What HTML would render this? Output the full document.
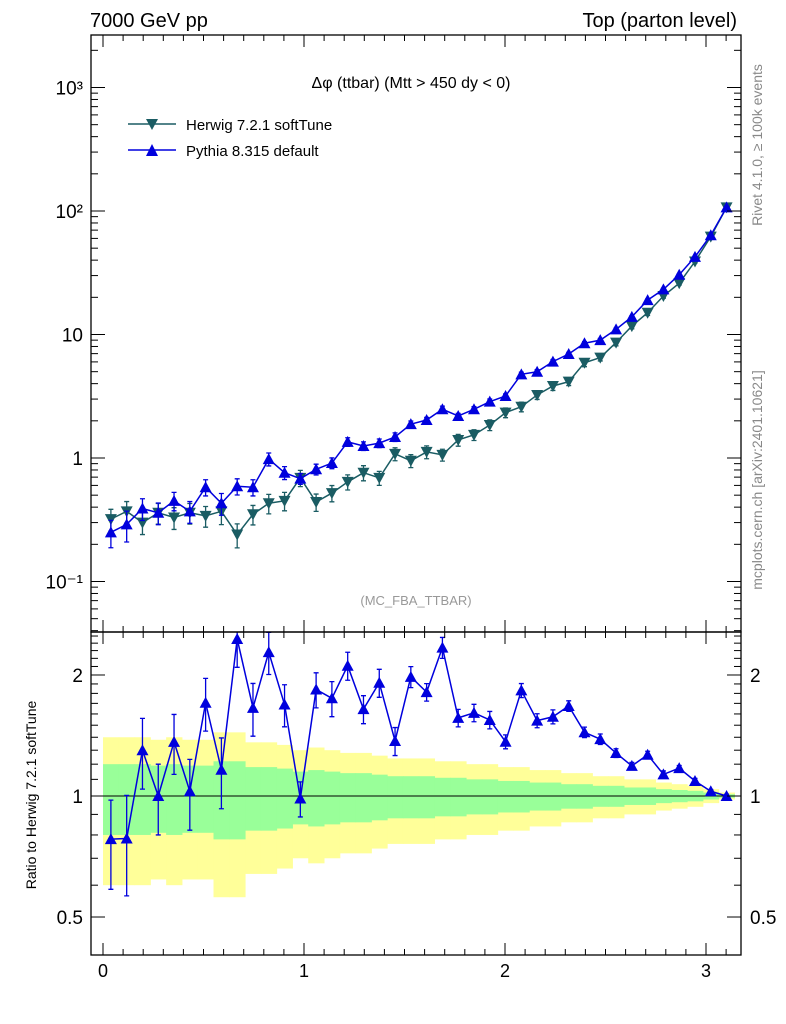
<!DOCTYPE html>
<html><head><meta charset="utf-8"><style>
body{margin:0;background:#fff}
svg{display:block;font-family:"Liberation Sans",sans-serif}
</style></head><body>
<svg id="c" width="786" height="1024" xmlns="http://www.w3.org/2000/svg">
<defs>
<clipPath id="cm"><rect x="91" y="35" width="650" height="597"/></clipPath>
<clipPath id="cr"><rect x="91" y="632" width="650" height="323"/></clipPath>
</defs>
<text x="90" y="27" font-size="20">7000 GeV pp</text>
<text x="737" y="27" font-size="20" text-anchor="end">Top (parton level)</text>
<text x="411" y="88" font-size="16" text-anchor="middle">Δφ (ttbar) (Mtt &gt; 450 dy &lt; 0)</text>
<text x="416" y="605" font-size="13" fill="#999" text-anchor="middle">(MC_FBA_TTBAR)</text>
<text transform="translate(762,145) rotate(-90)" font-size="14" fill="#888" text-anchor="middle">Rivet 4.1.0, ≥ 100k events</text>
<text transform="translate(762,480) rotate(-90)" font-size="14" fill="#888" text-anchor="middle">mcplots.cern.ch [arXiv:2401.10621]</text>
<text transform="translate(36,795) rotate(-90)" font-size="14" text-anchor="middle">Ratio to Herwig 7.2.1 softTune</text>
<g id="legend">
<g>
<line x1="128" y1="124" x2="176" y2="124" stroke="#1a5c63" stroke-width="1.5"/>
<path d="M146,119 L158,119 L152,130 Z" fill="#1a5c63"/>
<text x="186" y="130" font-size="15">Herwig 7.2.1 softTune</text></g>
<g>
<line x1="128" y1="150" x2="176" y2="150" stroke="#0000dd" stroke-width="1.5"/>
<path d="M146,156 L158,156 L152,144 Z" fill="#0000dd"/>
<text x="186" y="156" font-size="15">Pythia 8.315 default</text></g>
</g>
<g id="g"></g>
</svg>
<script>
const herwigVals=[0.32,0.37,0.30,0.36,0.33,0.36,0.34,0.37,0.24,0.35,0.43,0.45,0.69,0.44,0.52,0.64,0.76,0.69,1.08,0.95,1.12,1.06,1.40,1.54,1.85,2.33,2.60,3.24,3.83,4.15,5.9,6.5,8.6,11.7,15.0,20.5,26,39,62,107];
const pythiaVals=[0.25,0.29,0.39,0.36,0.45,0.37,0.58,0.43,0.59,0.58,0.98,0.76,0.68,0.81,0.91,1.35,1.25,1.32,1.48,1.88,2.03,2.48,2.19,2.48,2.86,3.18,4.76,4.99,6.03,6.95,8.5,9.0,11.0,13.9,19.0,23.2,30.5,42.5,63.7,107];
const herwigErr=[0.2,0.2,0.2,0.19,0.2,0.19,0.19,0.22,0.22,0.18,0.18,0.17,0.15,0.16,0.15,0.14,0.14,0.13,0.12,0.12,0.12,0.11,0.11,0.10,0.10,0.09,0.09,0.08,0.08,0.07,0.07,0.06,0.06,0.05,0.05,0.04,0.035,0.03,0.02,0.01];
const pythiaErr=[0.25,0.28,0.2,0.2,0.17,0.2,0.15,0.2,0.15,0.15,0.12,0.12,0.1,0.1,0.1,0.08,0.08,0.08,0.08,0.06,0.05,0.06,0.05,0.05,0.05,0.04,0.04,0.04,0.04,0.03,0.03,0.03,0.025,0.02,0.02,0.02,0.015,0.015,0.01,0.01];
const xTicks=[0,1,2,3];
const mainTicks=[-1,0,1,2,3];
const mainTickLabels=["10\u207B\u00B9","1","10","10\u00B2","10\u00B3"];
const ratioTicks=[0.5,1,2];
const ratioTickLabels=["0.5","1","2"];

const NS="http://www.w3.org/2000/svg";
const g=document.getElementById('g');
const L=91,R=741,T=35,M=632,B=955;
const X=v=>103+v*201;
const Ym=v=>458-Math.log10(v)*123.5;
const Yr=v=>796-Math.log10(v)*402;
const nb=herwigVals.length, bw=Math.PI/nb;
function el(t,a,p){const e=document.createElementNS(NS,t);for(const k in a)e.setAttribute(k,a[k]);(p||g).appendChild(e);return e;}

const bands=el('g',{'clip-path':'url(#cr)'});


for(let i=0;i<nb;i++){
 const x0=X(i*bw),x1=X((i+1)*bw),e=herwigErr[i];
 const y=el('rect',{x:x0,y:Yr(1+2*e),width:x1-x0+0.5,height:Yr(Math.max(1-2*e,0.3))-Yr(1+2*e),fill:'#ffff99'},bands);
 
 
}
for(let i=0;i<nb;i++){
 const x0=X(i*bw),x1=X((i+1)*bw),e=herwigErr[i];
 const gr=el('rect',{x:x0,y:Yr(1+e),width:x1-x0+0.5,height:Yr(1-e)-Yr(1+e),fill:'#99ff99'},bands);
 
 
}
const refl=el('line',{x1:L,y1:796,x2:R,y2:796,stroke:'#000','stroke-width':1});



function series(vals,errs,Y,clip,color,down,name){
 const s=el('g',{'clip-path':'url(#'+clip+')'});
 
 
 let d='';
 vals.forEach((v,i)=>{const x=X((i+0.5)*bw);d+=(i?'L':'M')+x+','+Y(v);});
 el('path',{d:d,fill:'none',stroke:color,'stroke-width':1.5},s);
 vals.forEach((v,i)=>{
  const x=X((i+0.5)*bw),y=Y(v),e=errs[i];
  const yt=Y(v*(1+e)),yb=Y(v*Math.max(1-e,0.05));
  el('path',{d:`M${x},${yt}V${yb}M${x-2.5},${yt}H${x+2.5}M${x-2.5},${yb}H${x+2.5}`,stroke:color,'stroke-width':1.3,fill:'none'},s);
  const m=el('path',{d:down?`M${x-6},${y-5}L${x+6},${y-5}L${x},${y+6}Z`:`M${x-6},${y+5}L${x+6},${y+5}L${x},${y-6}Z`,fill:color},s);
  
  
 });
}
series(herwigVals,herwigErr,Ym,'cm','#1a5c63',true,'herwig-series');
series(pythiaVals,pythiaErr,Ym,'cm','#0000dd',false,'pythia-series');
const rat=pythiaVals.map((v,i)=>v/herwigVals[i]);
series(rat,pythiaErr,Yr,'cr','#0000dd',false,'pythia-ratio-series');

el('rect',{x:L,y:T,width:R-L,height:M-T,fill:'none',stroke:'#000','stroke-width':1.3});
el('rect',{x:L,y:M,width:R-L,height:B-M,fill:'none',stroke:'#000','stroke-width':1.3});

for(let v=0;v<=3.2;v+=0.1){
 const x=X(v),maj=Math.abs(v-Math.round(v))<1e-6,len=maj?12:6;
 if(x<L||x>R)continue;
 [[T,1],[M,-1],[M,1],[B,-1]].forEach(([y0,s])=>el('line',{x1:x,y1:y0,x2:x,y2:y0+s*len,stroke:'#000'}));
}
xTicks.forEach(v=>{const t=el('text',{x:X(v),y:977,'font-size':18,'text-anchor':'middle'});t.textContent=v;
 
 });

for(let d=-2;d<=3;d++){
 for(let k=1;k<10;k++){
  const y=Ym(k*Math.pow(10,d));if(y<T||y>M)continue;
  const len=k==1?14:7;
  el('line',{x1:L,y1:y,x2:L+len,y2:y,stroke:'#000'});
  el('line',{x1:R,y1:y,x2:R-len,y2:y,stroke:'#000'});
 }
}
mainTicks.forEach((p,i)=>{const t=el('text',{x:83,y:Ym(Math.pow(10,p))+7,'font-size':19,'text-anchor':'end'});t.textContent=mainTickLabels[i];
 
 });

for(let v=0.4;v<=2.6;v+=0.1){
 const y=Yr(v);if(y<M||y>B)continue;
 const maj=[0.5,1,2].some(m=>Math.abs(m-v)<1e-6),len=maj?14:7;
 el('line',{x1:L,y1:y,x2:L+len,y2:y,stroke:'#000'});
 el('line',{x1:R,y1:y,x2:R-len,y2:y,stroke:'#000'});
}
ratioTicks.forEach((v,i)=>{
 const t=el('text',{x:83,y:Yr(v)+7,'font-size':19,'text-anchor':'end'});t.textContent=ratioTickLabels[i];
 
 
 const t2=el('text',{x:750,y:Yr(v)+7,'font-size':19});t2.textContent=ratioTickLabels[i];
 
 
});
</script>
</body></html>
